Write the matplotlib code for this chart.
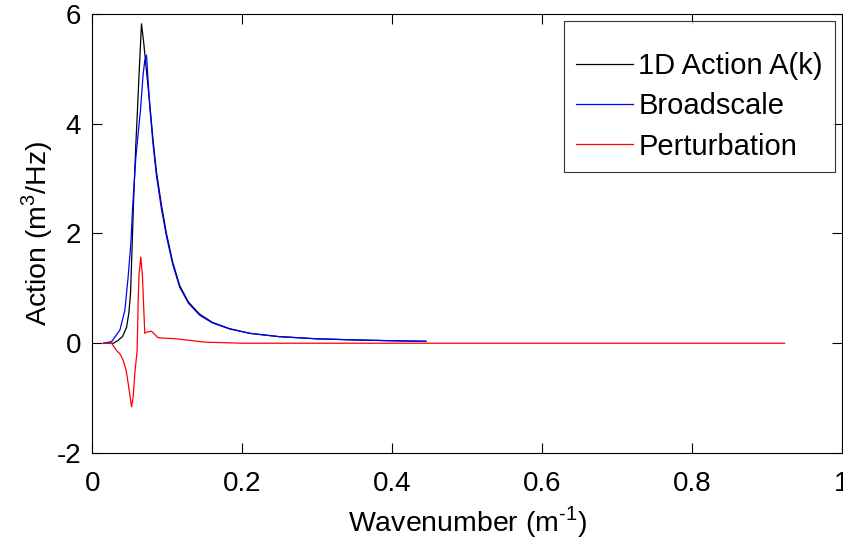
import matplotlib
matplotlib.use("Agg")
import matplotlib.pyplot as plt

plt.rcParams['font.family'] = ['Liberation Sans', 'DejaVu Sans']
plt.rcParams['mathtext.fontset'] = 'custom'
plt.rcParams['mathtext.rm'] = 'Liberation Sans'
plt.rcParams['axes.unicode_minus'] = False

# --- data ---
k_total = [0.015, 0.028, 0.034, 0.040, 0.0455, 0.0485, 0.0508, 0.053, 0.0552, 0.0579,
           0.060, 0.0625, 0.0654, 0.0685, 0.0707, 0.0765, 0.081, 0.0854, 0.092, 0.0987,
           0.107, 0.1164, 0.128, 0.143, 0.160, 0.183, 0.21, 0.249, 0.30, 0.35,
           0.40, 0.445]
a_total = [0.0, 0.0, 0.05, 0.12, 0.29, 0.55, 0.91, 1.82, 2.73, 3.64,
           4.24, 5.0, 5.82, 5.46, 5.15, 4.35, 3.68, 3.12, 2.52, 2.0,
           1.48, 1.05, 0.75, 0.53, 0.38, 0.265, 0.18, 0.12, 0.08, 0.06,
           0.045, 0.035]

k_broad = [0.015, 0.0255, 0.0366, 0.0432, 0.0476, 0.0512, 0.0534, 0.0579, 0.064, 0.0676,
           0.0698, 0.0721, 0.0765, 0.081, 0.0854, 0.092, 0.0987, 0.107, 0.1164, 0.128,
           0.143, 0.160, 0.183, 0.21, 0.249, 0.30, 0.35, 0.40, 0.445]
a_broad = [0.0, 0.03, 0.24, 0.6, 1.21, 1.82, 2.43, 3.39, 4.24, 4.9,
           5.15, 5.25, 4.3, 3.6, 3.05, 2.45, 1.95, 1.44, 1.02, 0.73,
           0.51, 0.37, 0.26, 0.18, 0.12, 0.08, 0.06, 0.045, 0.035]

k_pert = [0.015, 0.0255, 0.032, 0.037, 0.041, 0.045, 0.0476, 0.050, 0.0521, 0.0543,
          0.0565, 0.0596, 0.061, 0.0622, 0.0645, 0.0667, 0.0698, 0.072, 0.0787, 0.0875,
          0.112, 0.15, 0.2, 0.9235]
a_pert = [0.0, 0.0, -0.13, -0.2, -0.31, -0.5, -0.73, -0.95, -1.16, -0.98,
          -0.55, -0.13, 0.78, 1.27, 1.57, 1.21, 0.18, 0.2, 0.22, 0.1,
          0.08, 0.02, 0.0, 0.0]

labels = ['1D Action A(k)', 'Broadscale', 'Perturbation']
colors = ['black', '#0000ff', '#ff0000']
xticks = [0, 0.2, 0.4, 0.6, 0.8, 1]
xticklabels = ['0', '0.2', '0.4', '0.6', '0.8', '1']
yticks = [-2, 0, 2, 4, 6]
yticklabels = ['-2', '0', '2', '4', '6']

fig = plt.figure(figsize=(8.43, 5.41), dpi=100)
ax = fig.add_axes([0.1097, 0.1627, 0.889, 0.8115])

ax.plot(k_total, a_total, color=colors[0], lw=0.9, label=labels[0])
ax.plot(k_broad, a_broad, color=colors[1], lw=0.9, label=labels[1])
ax.plot(k_pert, a_pert, color=colors[2], lw=0.9, label=labels[2])

ax.set_xlim(0, 1)
ax.set_ylim(-2, 6)
ax.set_xticks(xticks)
ax.set_xticklabels(xticklabels)
ax.set_yticks(yticks)
ax.set_yticklabels(yticklabels)
ax.tick_params(direction='in', length=7, width=0.8, top=True, right=True,
               labelsize=20)
ax.tick_params(axis='x', pad=13)
ax.tick_params(axis='y', pad=8)
for s in ax.spines.values():
    s.set_linewidth(0.8)

ax.set_xlabel(r'Wavenumber (m$^{\text{-1}}$)', fontsize=20.5, labelpad=5)
ax.set_ylabel(r'Action (m$^{3}$/Hz)', fontsize=20.5, labelpad=1)

leg = ax.legend(loc='upper right', fontsize=21, frameon=True, fancybox=False,
                edgecolor='black', handlelength=1.95, handletextpad=0.2,
                labelspacing=0.42, borderpad=0.4, borderaxespad=0.25,
                title=' ', title_fontsize=5)
leg.get_frame().set_linewidth(0.8)

fig.savefig('out.png', dpi=100)
